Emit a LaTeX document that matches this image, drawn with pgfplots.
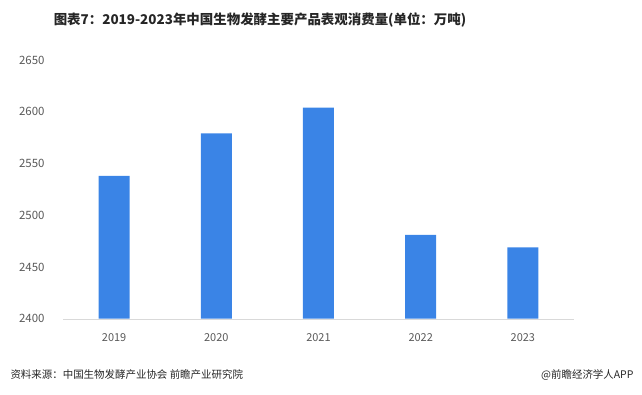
\documentclass[border=0pt]{standalone}
\usepackage{pgfplots}
\pgfplotsset{compat=1.18}
\usepackage{fontspec}
\setmainfont{Noto Sans CJK SC}
\definecolor{barblue}{HTML}{3A84E6}
\definecolor{ticktext}{HTML}{595959}
\definecolor{titletext}{HTML}{262626}
\definecolor{axisgrey}{HTML}{D9D9D9}
\begin{document}
\begin{tikzpicture}
\useasboundingbox (0,0) rectangle (642bp,-395bp);
\node[anchor=center, font=\fontsize{13.5}{16}\selectfont\bfseries, text=titletext] at (260bp,-20bp) {图表7：2019-2023年中国生物发酵主要产品表观消费量(单位：万吨)};
\begin{axis}[
  at={(63bp,-318.7bp)}, anchor=south west,
  scale only axis, width=511bp, height=258.7bp,
  xmin=-0.5, xmax=4.5, ymin=2400, ymax=2650,
  ytick=\empty,
  xtick=data, xticklabels={2019,2020,2021,2022,2023},
  axis line style={axisgrey},
  axis x line=bottom, axis y line=none,
  x axis line style={-},
  major tick length=0pt,
  tick label style={font=\fontsize{11}{12}\selectfont, text=ticktext},
  xticklabel style={yshift=-11bp},
  /pgf/number format/assume math mode=true,
  /pgf/number format/1000 sep={},
  ybar, bar width=31bp,
  clip=false,
]
\addplot[fill=barblue, draw=none] coordinates {(0,2538) (1,2579) (2,2604) (3,2481) (4,2469)};
\pgfplotsextra{
  \foreach \v in {2400,2450,2500,2550,2600,2650}{
    \node[anchor=east, font=\fontsize{11.5}{12}\selectfont, text=ticktext] at (axis cs:-0.5,\v) [xshift=-15bp] {\v};
  }
}
\end{axis}
\node[anchor=west, font=\fontsize{10.5}{12}\selectfont, text=titletext] at (7bp,-375bp) {资料来源：中国生物发酵产业协会 前瞻产业研究院};
\node[anchor=east, font=\fontsize{10.5}{12}\selectfont, text=titletext] at (637bp,-375bp) {@前瞻经济学人APP};
\end{tikzpicture}
\end{document}
